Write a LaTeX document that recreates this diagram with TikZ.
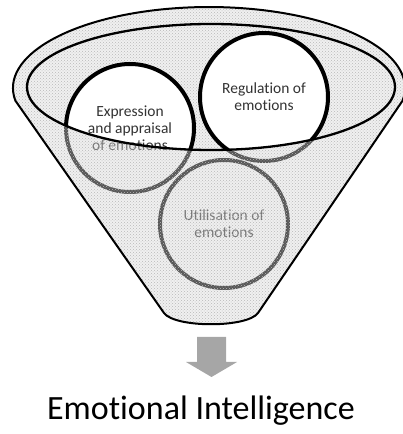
\documentclass[tikz,border=0pt]{standalone}
\usepackage{fontspec}
\setmainfont{Carlito}[Ligatures=NoCommon]
\usepackage{xcolor}
\usetikzlibrary{patterns}

\definecolor{arrowgrey}{HTML}{A6A6A6}
\definecolor{labelgrey}{HTML}{333333}

% outline of the funnel (rim on top, rounded spout below)
\newcommand{\funnelpath}{(164,121) -- (15.4,333.3)
    arc[start angle=189, end angle=-9, x radius=196, y radius=81]
    -- (258,121) .. controls (247,106) and (175,106) .. (164,121) -- cycle}
\newcommand{\rimpath}{(211,347) ellipse [x radius=184, y radius=63]}

\tikzset{
    wall/.style={fill=gray!30, fill opacity=.4},
    speckle/.style={pattern=crosshatch dots, pattern color=gray!55},
    bubble/.style={circle, draw=black, fill=white, line width=4pt,
        minimum size=128pt, inner sep=0pt, align=center, text=labelgrey,
        font=\fontsize{15.5}{16.8}\selectfont},
}

\begin{document}
\begin{tikzpicture}[x=1pt,y=1pt]
    \useasboundingbox (0,0) rectangle (403,434);

    % Back wall seen through the opening
    \fill[wall] \rimpath;
    \fill[speckle] \rimpath;

    % The three circles inside the funnel
    \node[bubble] (express) at (130,306) {Expression\\and appraisal\\of emotions};
    \node[bubble] (regulate) at (264,337) {Regulation of\\emotions};
    \node[bubble] (utilise) at (224,210) {Utilisation of\\emotions};

    % Front face of the funnel, over the circles
    \fill[wall, even odd rule] \funnelpath \rimpath;
    \fill[speckle, even odd rule] \funnelpath \rimpath;

    % Outlines
    \draw[line width=2pt, line join=round] \funnelpath;
    \draw[line width=2.3pt] \rimpath;

    % Output arrow and result
    \fill[arrowgrey] (197,97) -- (226,97) -- (226,72) -- (237,72)
        -- (211.5,57) -- (186,72) -- (197,72) -- cycle;
    \node[anchor=base, font=\fontsize{34}{37}\selectfont, text=black] (result)
        at (201,14) {Emotional Intelligence};
\end{tikzpicture}
\end{document}
